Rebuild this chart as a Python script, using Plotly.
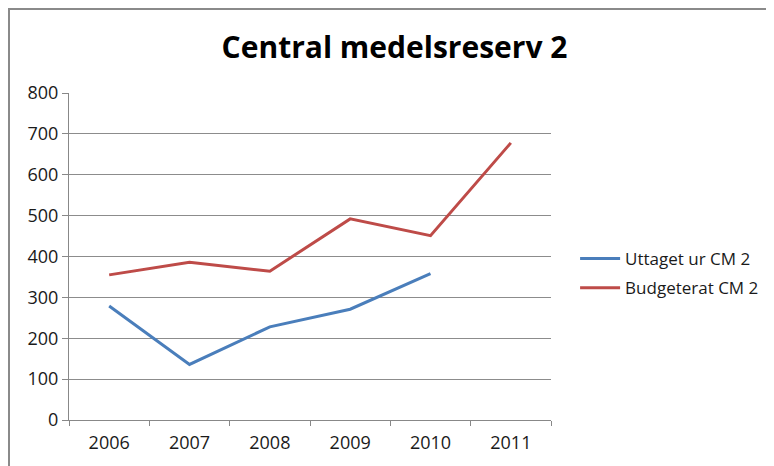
import plotly.graph_objects as go

years = ["2006", "2007", "2008", "2009", "2010", "2011"]
uttaget = [279, 136, 228, 271, 358, None]
budgeterat = [355, 386, 364, 492, 451, 678]
y_ticks = [0, 100, 200, 300, 400, 500, 600, 700, 800]

font_family = "Open Sans, Liberation Sans, sans-serif"

# page body has an 8px margin, so the figure is sized to fit inside it
W, H = 766, 458
L, T, R, B = 61, 85, 223, 46
pw, ph = W - L - R, H - T - B

fig = go.Figure()
fig.add_trace(go.Scatter(x=years, y=uttaget, name="Uttaget ur CM 2", mode="lines",
                         legendgroup="a", line=dict(color="#4A7EBB", width=3)))
fig.add_trace(go.Scatter(x=years, y=budgeterat, name="Budgeterat CM 2", mode="lines",
                         legendgroup="b", line=dict(color="#BE4B48", width=3)))

fig.update_layout(
    width=W, height=H,
    margin=dict(l=L, r=R, t=T, b=B, autoexpand=False),
    paper_bgcolor="white", plot_bgcolor="white",
    font=dict(family=font_family, size=18, color="#1a1a1a"),
    title=dict(text="<b>Central medelsreserv 2</b>", x=0.5046, xanchor="center",
               y=(H - 39) / H, yanchor="middle",
               font=dict(family=font_family, size=30, color="black")),
    legend=dict(x=1.05, xanchor="left", y=0.448, yanchor="middle",
                font=dict(size=17), tracegroupgap=4, itemwidth=40),
    showlegend=True,
)
fig.update_xaxes(type="category", range=[-0.5, 5.5], showgrid=False,
                 showline=True, linecolor="#888888", linewidth=1,
                 ticks="outside", tickson="boundaries", ticklen=5, tickcolor="#888888",
                 ticklabelstandoff=6)
fig.update_yaxes(range=[0, 800], tickvals=y_ticks, showgrid=True, gridcolor="#8c8c8c",
                 gridwidth=1, showline=True, linecolor="#888888", linewidth=1,
                 ticks="outside", ticklen=6, tickcolor="#888888", zeroline=False)

# outer chart frame
fig.add_shape(type="rect", xref="paper", yref="paper",
              x0=(1 - L) / pw, x1=(W + 20 - L) / pw,
              y0=-(B + 20) / ph, y1=(ph + T - 1) / ph,
              line=dict(color="#8a8a8a", width=2), layer="below")

fig.write_html("out.html")
